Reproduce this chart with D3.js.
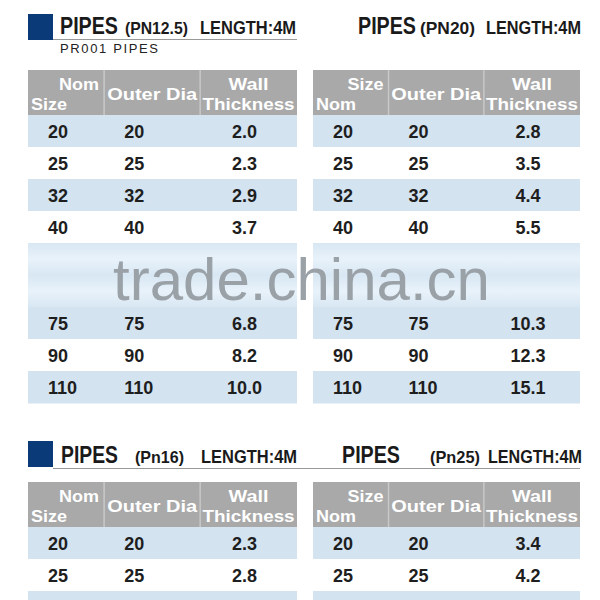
<!DOCTYPE html>
<html><head><meta charset="utf-8">
<script src="https://cdn.jsdelivr.net/npm/d3@7"></script>
<style>body{margin:0;background:#fff}svg{display:block}</style>
</head><body><svg id="chart" width="600" height="600"></svg>
<script>
// hidden rows (blurred in the source) are null
const nomSizes = [20, 25, 32, 40, null, null, 75, 90, 110];
const wallPN125 = ["2.0", "2.3", "2.9", "3.7", null, null, "6.8", "8.2", "10.0"];
const wallPN20 = ["2.8", "3.5", "4.4", "5.5", null, null, "10.3", "12.3", "15.1"];
const wallPN16 = ["2.3", "2.8", "3.3"];
const wallPN25 = ["3.4", "4.2", "5.4"];
const columns = ["nom", "outer", "wall"];

const svg = d3.select("#chart");
const font = "'Liberation Sans', Arial, sans-serif";

const defs = svg.append("defs");
const grad = defs.append("linearGradient").attr("id", "blur").attr("x1", 0).attr("y1", 0).attr("x2", 0).attr("y2", 1);
grad.append("stop").attr("offset", "0%").attr("stop-color", "#d8e7f3");
grad.append("stop").attr("offset", "50%").attr("stop-color", "#e8f2fa");
grad.append("stop").attr("offset", "100%").attr("stop-color", "#d8e7f3");

function drawTable(x0, x1, headerTop, rowTop, sizes, walls, swapHeader) {
  const g = svg.append("g");
  const x = d3.scaleOrdinal().domain(columns).range([x0, x0 + (x1 - x0) * 0.283, x0 + (x1 - x0) * 0.64]);
  const xEnd = { nom: x("outer"), outer: x("wall"), wall: x1 };
  const y = d3.scaleBand().domain(d3.range(sizes.length)).range([rowTop, rowTop + 32 * sizes.length]);

  g.append("rect").attr("x", x0).attr("y", headerTop).attr("width", x1 - x0).attr("height", rowTop - headerTop).attr("fill", "#a9a9a9");
  columns.slice(1).forEach(c => g.append("line").attr("x1", x(c)).attr("x2", x(c))
    .attr("y1", headerTop).attr("y2", rowTop).attr("stroke", "#c8c8c8").attr("stroke-width", 1.5));

  const ht = (t, tx, ty, anchor, len) => g.append("text").attr("x", tx).attr("y", ty).attr("text-anchor", anchor)
    .attr("fill", "#fff").attr("font-family", font).attr("font-weight", "bold").attr("font-size", 17)
    .attr("textLength", len).attr("lengthAdjust", "spacingAndGlyphs").text(t);
  const mid = (headerTop + rowTop) / 2;
  ht(swapHeader ? "Size" : "Nom", xEnd.nom - 5, mid - 3, "end", swapHeader ? 36 : 40);
  ht(swapHeader ? "Nom" : "Size", x0 + 3, mid + 17, "start", swapHeader ? 40 : 36);
  ht("Outer Dia", (x("outer") + xEnd.outer) / 2, mid + 7, "middle", 90);
  ht("Wall", (x("wall") + x1) / 2, mid - 3, "middle", 40);
  ht("Thickness", (x("wall") + x1) / 2, mid + 17, "middle", 92);

  sizes.forEach((s, i) => {
    const hidden = s === null;
    g.append("rect").attr("x", x0).attr("y", y(i)).attr("width", x1 - x0).attr("height", y.bandwidth() + 0.5)
      .attr("fill", hidden ? "url(#blur)" : (i % 2 === 0 ? "#d3e3f0" : "#fff"));
    if (hidden) return;
    const vals = { nom: s, outer: s, wall: walls[i] };
    columns.forEach(c => {
      g.append("text").attr("x", c === "wall" ? (x(c) + x1) / 2 - 4 : x(c) + 20)
        .attr("y", y(i) + y.bandwidth() / 2 + 7)
        .attr("text-anchor", c === "wall" ? "middle" : "start")
        .attr("font-family", font).attr("font-weight", "bold").attr("font-size", 18).attr("fill", "#1e1e1e")
        .text(vals[c]);
    });
  });
}

function title(baseline, parts) {
  parts.forEach(p => svg.append("text").attr("x", p.x).attr("y", baseline)
    .attr("font-family", font).attr("font-weight", "bold").attr("font-size", p.size)
    .attr("textLength", p.w).attr("lengthAdjust", "spacingAndGlyphs").attr("fill", "#1a1a1a").text(p.t));
}

// top titles
svg.append("rect").attr("x", 28).attr("y", 14).attr("width", 25).attr("height", 26).attr("fill", "#0b3a78");
svg.append("line").attr("x1", 53).attr("x2", 297).attr("y1", 39.5).attr("y2", 39.5).attr("stroke", "#999");
title(34, [{ x: 60, t: "PIPES", size: 23, w: 58 }, { x: 125, t: "(PN12.5)", size: 17, w: 63 }, { x: 200, t: "LENGTH:4M", size: 18, w: 96 }]);
svg.append("text").attr("x", 60).attr("y", 53).attr("font-family", font).attr("font-size", 13).attr("fill", "#222")
  .attr("textLength", 98).text("PR001   PIPES");
title(34, [{ x: 358, t: "PIPES", size: 23, w: 58 }, { x: 420, t: "(PN20)", size: 17, w: 55 }, { x: 486, t: "LENGTH:4M", size: 18, w: 95 }]);

drawTable(28, 297, 70, 115, nomSizes, wallPN125, false);
drawTable(313, 580, 70, 115, nomSizes, wallPN20, true);

// watermark
svg.append("text").attr("x", 113).attr("y", 300)
  .attr("font-family", font).attr("font-size", 60).attr("fill", "#9aa2a8")
  .attr("textLength", 377).attr("lengthAdjust", "spacingAndGlyphs").text("trade.china.cn");

// bottom titles
svg.append("rect").attr("x", 28).attr("y", 441).attr("width", 25).attr("height", 26).attr("fill", "#0b3a78");
svg.append("line").attr("x1", 53).attr("x2", 580).attr("y1", 468.5).attr("y2", 468.5).attr("stroke", "#999");
title(463, [{ x: 61, t: "PIPES", size: 23, w: 57 }, { x: 135, t: "(Pn16)", size: 17, w: 49 }, { x: 201, t: "LENGTH:4M", size: 18, w: 96 }]);
title(463, [{ x: 342, t: "PIPES", size: 23, w: 58 }, { x: 430, t: "(Pn25)", size: 17, w: 50 }, { x: 488, t: "LENGTH:4M", size: 18, w: 94 }]);

drawTable(28, 297, 482, 527, [20, 25, 32], wallPN16, false);
drawTable(313, 580, 482, 527, [20, 25, 32], wallPN25, true);
</script></body></html>
